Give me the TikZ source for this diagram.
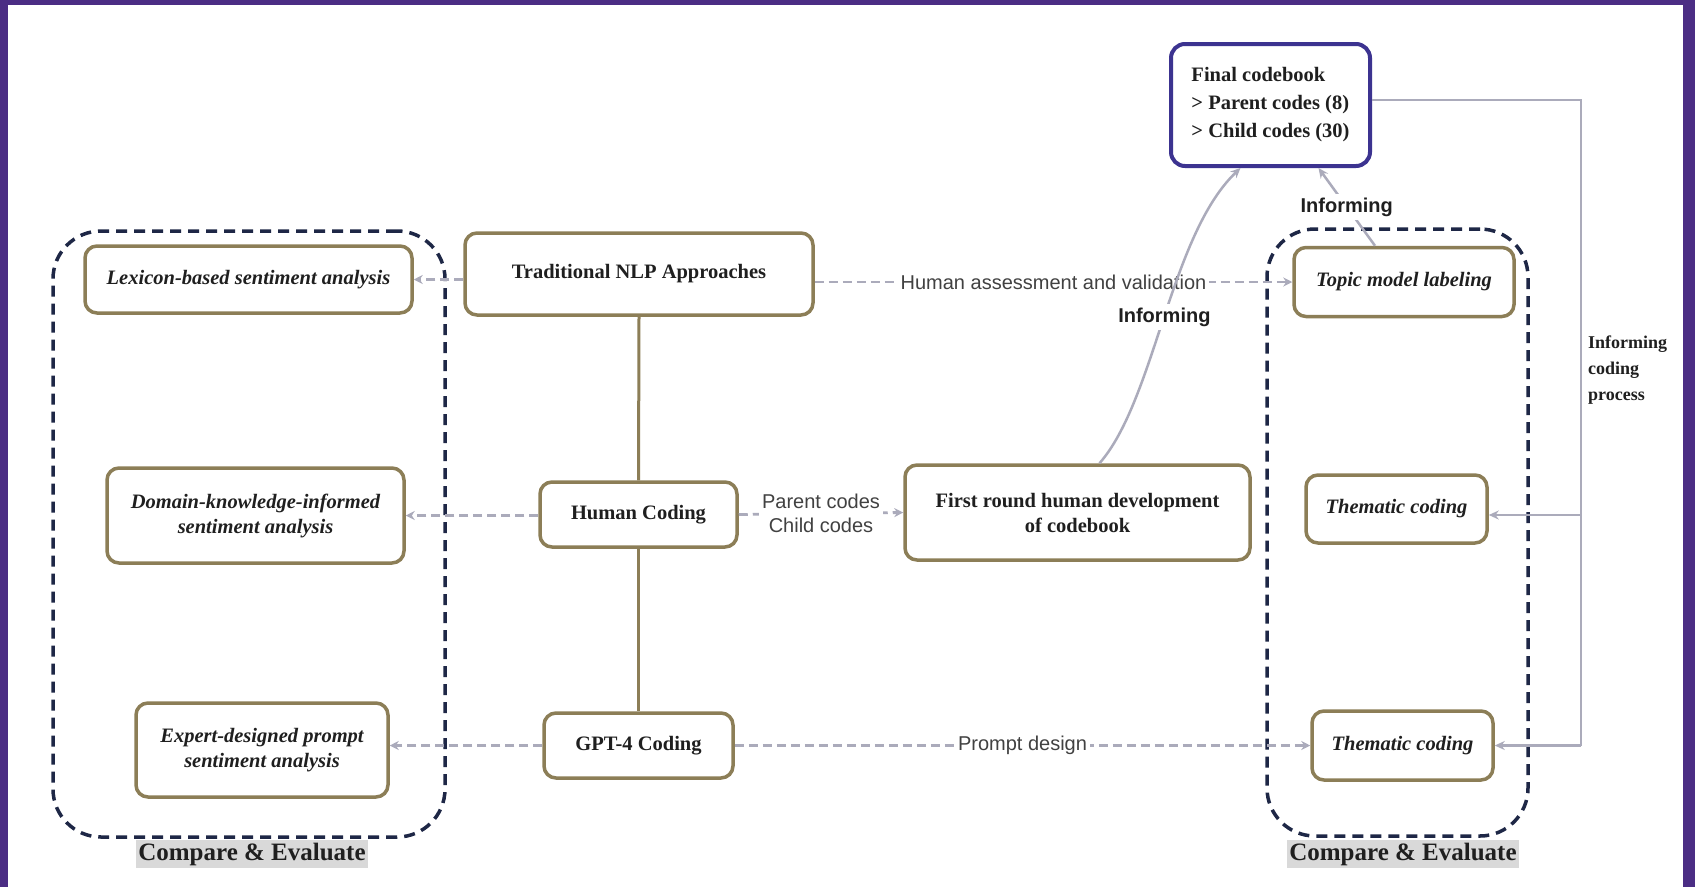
\documentclass[tikz,border=0pt]{standalone}
\usepackage{fontspec}
\setmainfont{Liberation Serif}
\newfontfamily\sansf{Liberation Sans}
\usetikzlibrary{arrows.meta}
\definecolor{frame}{HTML}{4B2D84}
\definecolor{olive}{HTML}{8C7E57}
\definecolor{indigo}{HTML}{3C3390}
\definecolor{navy}{HTML}{1E2746}
\definecolor{garr}{HTML}{ABABBB}
\definecolor{ink}{HTML}{1F1F1F}
\definecolor{cmpbg}{HTML}{D9D9D9}
\begin{document}
\begin{tikzpicture}[x=1pt,y=-1pt,
  box/.style={draw=olive, line width=3.5pt, rounded corners=12pt, fill=white, align=center, text=ink, font=\fontsize{20.5}{25}\selectfont\bfseries, inner sep=0pt},
  ibox/.style={box, font=\fontsize{20.5}{25}\selectfont\bfseries\itshape},
  grp/.style={draw=navy, line width=3.5pt, dash pattern=on 11pt off 7pt, rounded corners=48pt, inner sep=0pt},
  garrow/.style={draw=garr, line width=2.8pt, dash pattern=on 9pt off 5pt, -{Stealth[length=9pt,width=9pt]}},
  gline/.style={draw=garr, line width=2.5pt},
  garrsolid/.style={gline, -{Stealth[length=10pt,width=9pt]}},
  olink/.style={draw=olive, line width=3pt},
  slabel/.style={font=\sansf\fontsize{20}{24}\selectfont, text=ink!85, fill=white, inner sep=3pt, align=center},
  blabel/.style={font=\sansf\bfseries\fontsize{20}{24}\selectfont, text=ink, fill=white, inner sep=4pt},
  cmp/.style={fill=cmpbg, font=\fontsize{25}{28}\selectfont\bfseries, text=ink, inner xsep=2pt, inner ysep=0pt, minimum height=28pt}
]
\useasboundingbox (0,0) rectangle (1695,887);
\fill[white] (0,0) rectangle (1695,887);
\fill[frame] (0,0) rectangle (1695,5);
\fill[frame] (0,0) rectangle (8,887);
\fill[frame] (1683,0) rectangle (1695,887);

% groups
\node[grp, minimum width=392pt, minimum height=606pt] (gl) at (249,534) {};
\node[grp, minimum width=261pt, minimum height=607pt] (gr) at (1397.5,532.5) {};
\node[cmp] (cl) at (252,854) {Compare \& Evaluate};
\node[cmp] (cr) at (1403,854) {Compare \& Evaluate};

% boxes
\node[box, minimum width=199pt, minimum height=122pt, draw=indigo, line width=4pt, rounded corners=14pt, align=left, font=\fontsize{20.5}{28}\selectfont\bfseries] (final) at (1270.5,105) {Final codebook\\> Parent codes (8)\\> Child codes (30)};
\node[box, minimum width=348pt, minimum height=82pt] (trad) at (639,274) {Traditional NLP Approaches};
\node[ibox, minimum width=327pt, minimum height=67pt] (lex) at (248.5,279.5) {Lexicon-based sentiment analysis};
\node[ibox, minimum width=220pt, minimum height=69pt] (topic) at (1404,282) {Topic model labeling};
\node[box, minimum width=197pt, minimum height=65pt] (human) at (638.5,514.5) {Human Coding};
\node[ibox, minimum width=297pt, minimum height=95pt] (domain) at (255.5,515.5) {Domain-knowledge-informed\\sentiment analysis};
\node[box, minimum width=345pt, minimum height=95pt] (first) at (1077.5,512.5) {First round human development\\of codebook};
\node[ibox, minimum width=181pt, minimum height=68pt] (thmid) at (1396.5,509) {Thematic coding};
\node[box, minimum width=189pt, minimum height=65pt] (gpt) at (638.5,745.5) {GPT-4 Coding};
\node[ibox, minimum width=252pt, minimum height=94pt] (expert) at (262,750) {Expert-designed prompt\\sentiment analysis};
\node[ibox, minimum width=181pt, minimum height=69pt] (thbot) at (1402.5,745.5) {Thematic coding};

% olive links
\draw[olink] (trad.south) -- (human.north);
\draw[olink] (human.south) -- (gpt.north);

% dashed arrows
\draw[garrow] (trad.west |- lex.east) -- (lex.east);
\draw[garrow] (trad.east |- topic.west) -- node[slabel]{Human assessment and validation} (topic.west);
\draw[garrow] (human.west |- domain.east) -- (domain.east);
\draw[garrow] (human.east) -- node[slabel]{Parent codes\\Child codes} (first.west);
\draw[garrow] (gpt.west) -- (gpt.west -| expert.east);
\draw[garrow] (gpt.east) -- node[slabel]{Prompt design} (gpt.east -| thbot.west);

% informing links
\draw[garrsolid] ([xshift=22pt]first.north) .. controls (1155,400) and (1170,235) .. node[blabel, pos=0.5]{Informing} ([xshift=-30pt]final.south);
\draw[garrsolid] ([xshift=-29pt]topic.north) -- node[blabel]{Informing} ([xshift=48pt]final.south);

% bus
\coordinate (bus) at (1581,0);
\draw[gline] ([yshift=5pt]final.east) -- ([yshift=5pt]final.east -| bus) -- (bus |- thbot.east);
\draw[garrsolid] (bus |- thbot.east) -- (thbot.east);
\draw[garrsolid] ([yshift=-6pt]thmid.east -| bus) -- ([yshift=-6pt]thmid.east);
\node[font=\fontsize{18}{26}\selectfont\bfseries, text=ink, align=left, anchor=west, inner sep=0pt] (icp) at (1588,370) {Informing\\coding\\process};
\end{tikzpicture}
\end{document}
